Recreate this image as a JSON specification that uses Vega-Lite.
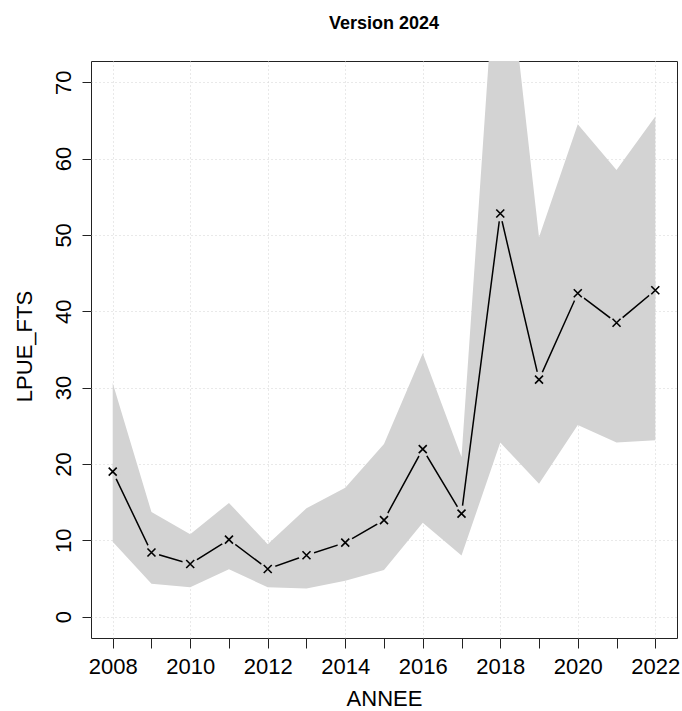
{
  "$schema": "https://vega.github.io/schema/vega-lite/v6.json",
  "width": 586,
  "height": 577,
  "autosize": {"type": "none"},
  "padding": {"left": 91, "top": 61, "right": 5, "bottom": 73},
  "background": "white",
  "config": {
    "font": "Liberation Sans",
    "view": {"stroke": "#222222", "strokeWidth": 1},
    "axis": {"labelFont": "Liberation Sans", "titleFont": "Liberation Sans", "labelFontSize": 22, "titleFontSize": 22, "labelColor": "black", "titleColor": "black", "titleFontWeight": "normal", "tickColor": "#222222", "domain": false, "gridColor": "#D3D3D3", "gridDash": [1, 3], "gridWidth": 1}
  },
  "title": {"text": "Version 2024", "font": "Liberation Sans", "fontSize": 18, "fontWeight": "bold", "color": "black", "anchor": "middle", "baseline": "alphabetic", "offset": 14, "frame": "group"},
  "data": {
    "values": [
      {"year": 2008, "lpue": 19.0, "low": 9.8, "high": 30.6},
      {"year": 2009, "lpue": 8.4, "low": 4.3, "high": 13.7},
      {"year": 2010, "lpue": 6.9, "low": 3.85, "high": 10.8},
      {"year": 2011, "lpue": 10.1, "low": 6.2, "high": 14.9},
      {"year": 2012, "lpue": 6.25, "low": 3.85, "high": 9.5},
      {"year": 2013, "lpue": 8.05, "low": 3.7, "high": 14.2},
      {"year": 2014, "lpue": 9.7, "low": 4.7, "high": 16.9},
      {"year": 2015, "lpue": 12.65, "low": 6.1, "high": 22.6},
      {"year": 2016, "lpue": 21.95, "low": 12.3, "high": 34.5},
      {"year": 2017, "lpue": 13.5, "low": 8.0, "high": 20.9},
      {"year": 2018, "lpue": 52.8, "low": 22.8, "high": 95.0},
      {"year": 2019, "lpue": 31.05, "low": 17.4, "high": 49.7},
      {"year": 2020, "lpue": 42.35, "low": 25.1, "high": 64.5},
      {"year": 2021, "lpue": 38.5, "low": 22.8, "high": 58.5},
      {"year": 2022, "lpue": 42.75, "low": 23.1, "high": 65.5}
    ]
  },
  "layer": [
    {
      "mark": {"type": "area", "color": "#D3D3D3", "opacity": 1, "clip": true},
      "encoding": {
        "x": {"field": "year", "type": "quantitative",
              "scale": {"domain": [2007.44, 2022.56], "nice": false, "zero": false},
              "axis": {"title": "ANNEE", "values": [2008, 2009, 2010, 2011, 2012, 2013, 2014, 2015, 2016, 2017, 2018, 2019, 2020, 2021, 2022],
                       "format": "d", "labelExpr": "datum.value % 2 == 0 ? datum.label : ''",
                       "labelOverlap": false, "labelFlush": false, "labelBaseline": "alphabetic", "labelPadding": 25, "tickSize": 10,
                       "grid": true, "gridOpacity": {"condition": {"test": "datum.value % 2 == 0", "value": 1}, "value": 0},
                       "titleBaseline": "alphabetic", "titleX": 293, "titleY": 67, "titleAnchor": "middle"}},
        "y": {"field": "low", "type": "quantitative",
              "scale": {"domain": [-2.79, 72.77], "nice": false, "zero": false},
              "axis": {"title": "LPUE_FTS", "values": [0, 10, 20, 30, 40, 50, 60, 70], "grid": true,
                       "labelAngle": -90, "labelAlign": "center", "labelBaseline": "alphabetic", "labelPadding": 12, "tickSize": 9,
                       "titleAngle": -90, "titleAlign": "center", "titleBaseline": "alphabetic", "titleX": -60, "titleY": 285}},
        "y2": {"field": "high"}
      }
    },
    {
      "mark": {"type": "line", "color": "black", "strokeWidth": 1.5},
      "encoding": {
        "x": {"field": "year", "type": "quantitative"},
        "y": {"field": "lpue", "type": "quantitative"}
      }
    },
    {
      "mark": {"type": "point", "filled": true, "color": "#D3D3D3", "opacity": 1, "size": 260, "strokeWidth": 0},
      "encoding": {
        "x": {"field": "year", "type": "quantitative"},
        "y": {"field": "lpue", "type": "quantitative"},
        "shape": {"condition": [
          {"test": "datum.year == 2008", "value": "M0,-1A1,1 0 0 1 0,1Z"},
          {"test": "datum.year == 2022", "value": "M0,-1A1,1 0 0 0 0,1Z"}
        ], "value": "circle"}
      }
    },
    {
      "mark": {"type": "point", "shape": "M-1,-1L1,1M-1,1L1,-1", "filled": false, "color": "black", "opacity": 1, "size": 64, "strokeWidth": 1.6},
      "encoding": {
        "x": {"field": "year", "type": "quantitative"},
        "y": {"field": "lpue", "type": "quantitative"}
      }
    }
  ]
}
